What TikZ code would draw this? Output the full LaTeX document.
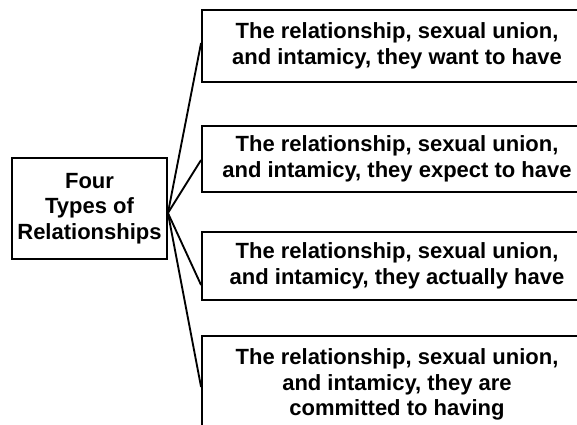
\documentclass[tikz,border=0pt]{standalone}
\usepackage{fontspec}
\setmainfont{Liberation Sans}
\usetikzlibrary{calc}
\tikzset{
  box/.style={draw,line width=1.4pt,align=center,inner sep=0pt,
    font=\fontsize{16.5}{19.2}\selectfont\bfseries},
  leg/.style={line width=1.4pt}
}
\begin{document}
\begin{tikzpicture}[x=0.75pt,y=-0.75pt]
\useasboundingbox (0,0) rectangle (577,424);
\clip (0,0) rectangle (577,424);
\node[box,minimum width=116.25pt,minimum height=75.75pt] (types) at (89.5,208.5) {Four\\Types of\\Relationships};
\node[box,minimum width=292.5pt,minimum height=54pt] (want) at (397,46) {The relationship, sexual union,\\and intamicy, they want to have};
\node[box,minimum width=292.5pt,minimum height=49.5pt] (expect) at (397,159) {The relationship, sexual union,\\and intamicy, they expect to have};
\node[box,minimum width=292.5pt,minimum height=51pt] (actual) at (397,266) {The relationship, sexual union,\\and intamicy, they actually have};
\node[box,minimum width=292.5pt,minimum height=72.75pt] (commit) at (397,384.5) {The relationship, sexual union,\\and intamicy, they are\\committed to having};
\coordinate (hub) at ($(types.east)+(0,4.5)$);
\draw[leg] (hub)--($(want.west)+(0,-3)$);
\draw[leg] (hub)--($(expect.west)+(0,1)$);
\draw[leg] (hub)--($(actual.west)+(0,19)$);
\draw[leg] (hub)--($(commit.west)+(0,2.5)$);
\end{tikzpicture}
\end{document}
